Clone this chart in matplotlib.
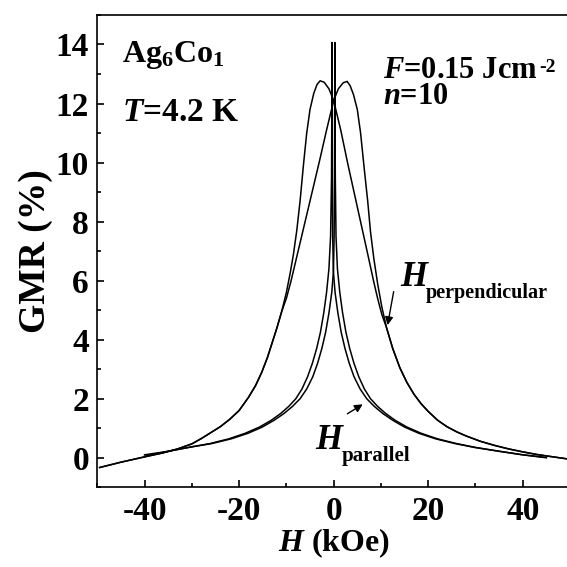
import matplotlib
matplotlib.use("Agg")
import matplotlib.pyplot as plt
from matplotlib.ticker import MultipleLocator

# perpendicular field, sweep + -> - (peak at negative H)
perp_down_h = [49.5, 46, 43, 40, 37, 34, 31, 28, 26, 24, 22, 20, 18.5, 17, 15.5, 14, 12.5, 11.2,
               10.2, 9.3, 8.5, 7, 5, 3, 1.5, 0, -1, -2, -2.85, -3.5, -4.2, -5.0, -5.7, -6.4,
               -7.1, -7.8, -8.5, -9.2, -10, -11, -12, -12.8, -14, -15.2, -16.5, -18, -20, -22,
               -24, -26, -28, -30, -33, -36, -40, -45, -49.5]
perp_down_gmr = [-0.04, 0.04, 0.11, 0.2, 0.3, 0.42, 0.56, 0.74, 0.88, 1.05, 1.27, 1.57, 1.83, 2.15, 2.55, 3.05, 3.7, 4.4,
                 4.85, 5.4, 5.95, 7.05, 8.5, 9.95, 11.1, 12.1, 12.5, 12.72, 12.77, 12.65, 12.35, 11.8, 11.0, 9.9,
                 8.7, 7.7, 6.9, 6.25, 5.6, 4.95, 4.4, 4.0, 3.4, 2.9, 2.45, 2.05, 1.6, 1.3,
                 1.05, 0.85, 0.65, 0.47, 0.3, 0.17, 0.03, -0.15, -0.33]

# perpendicular field, sweep - -> + (peak at positive H)
perp_up_h = [-49.5, -45, -40, -36, -33, -30, -28, -26, -24, -22, -20, -18, -16.5, -15.2, -14,
             -12.8, -12, -11, -10, -9, -7, -5, -3, -1.5, 0, 1, 2, 2.85, 3.5, 4.2, 5.0, 5.7,
             6.4, 7.2, 7.8, 8.5, 9.3, 10.2, 11.2, 12.5, 14, 15.5, 17, 18.5, 20, 22, 24, 26,
             28, 31, 34, 37, 40, 43, 46, 49.5]
perp_up_gmr = [-0.33, -0.15, 0.03, 0.17, 0.3, 0.47, 0.65, 0.85, 1.05, 1.3, 1.6, 2.05, 2.45, 2.9, 3.4,
               4.0, 4.4, 4.95, 5.4, 6.0, 7.35, 8.7, 10.05, 11.1, 12.1, 12.5, 12.7, 12.75, 12.6, 12.3, 11.8, 11.0,
               9.9, 8.7, 7.65, 6.75, 5.9, 5.1, 4.4, 3.7, 3.05, 2.55, 2.15, 1.83, 1.57, 1.27, 1.05, 0.88,
               0.74, 0.56, 0.42, 0.3, 0.2, 0.11, 0.04, -0.04]

# parallel field, sweep + -> - (sharp peak just below zero)
par_down_h = [45, 40, 35, 29.8, 25.7, 21.6, 18, 15, 12.5, 10.4, 8.6, 7.0, 5.6, 4.3, 3.3, 2.4,
              1.6, 0.9, 0.3, -0.05, -0.2, -0.28, -0.32, -0.35, -0.38, -0.45, -0.65, -1.0,
              -1.5, -2.1, -2.8, -3.6, -4.5, -5.5, -6.7, -8.0, -9.5, -11.2, -13.2, -15.7,
              -18.7, -22.2, -26.2, -30, -35, -40]
par_down_gmr = [0.0, 0.1, 0.22, 0.35, 0.48, 0.64, 0.83, 1.04, 1.27, 1.5, 1.74, 2.0, 2.33, 2.75, 3.2, 3.7,
                4.25, 4.9, 5.6, 6.3, 7.5, 9.5, 12.0, 14.07, 12.0, 9.5, 7.5, 6.4,
                5.6, 4.9, 4.25, 3.7, 3.2, 2.75, 2.33, 2.0, 1.74, 1.5, 1.27, 1.04,
                0.83, 0.64, 0.48, 0.37, 0.22, 0.05]

# parallel field, sweep - -> + (sharp peak just above zero)
par_up_h = [-40, -35, -30, -25.8, -21.7, -18.1, -15.1, -12.6, -10.5, -8.7, -7.1, -5.7, -4.4,
            -3.4, -2.5, -1.7, -1.0, -0.4, -0.05, 0.1, 0.18, 0.22, 0.25, 0.28, 0.35, 0.5, 0.8,
            1.3, 1.9, 2.6, 3.4, 4.3, 5.3, 6.5, 7.8, 9.3, 11, 13, 15.5, 18.5, 22, 26, 30,
            35, 40, 45]
par_up_gmr = [0.1, 0.22, 0.37, 0.48, 0.64, 0.83, 1.04, 1.27, 1.5, 1.74, 2.0, 2.33, 2.75,
              3.2, 3.7, 4.25, 4.9, 5.6, 6.3, 7.5, 9.5, 12.0, 14.07, 12.0, 9.5, 7.5, 6.4,
              5.6, 4.9, 4.25, 3.7, 3.2, 2.75, 2.33, 2.0, 1.74, 1.5, 1.27, 1.04, 0.83, 0.64, 0.48, 0.35,
              0.22, 0.1, 0.01]

plt.rcParams.update({
    "font.family": "Liberation Serif",
    "font.weight": "bold",
    "axes.labelweight": "bold",
    "axes.unicode_minus": False,
    "mathtext.fontset": "custom",
    "mathtext.rm": "Liberation Serif:bold",
    "mathtext.it": "Liberation Serif:italic:bold",
    "mathtext.bf": "Liberation Serif:bold",
    "axes.linewidth": 1.2,
})

fig = plt.figure(figsize=(5.67, 5.67), dpi=100)
ax = fig.add_axes([0.1716, 0.1406, 0.8337, 0.833])

for h, g in [(perp_down_h, perp_down_gmr), (perp_up_h, perp_up_gmr),
             (par_down_h, par_down_gmr), (par_up_h, par_up_gmr)]:
    ax.plot(h, g, color="black", lw=1.1)

ax.set_xlim(-50, 50)
ax.set_ylim(-1, 15)
ax.xaxis.set_major_locator(MultipleLocator(20))
ax.xaxis.set_minor_locator(MultipleLocator(10))
ax.yaxis.set_major_locator(MultipleLocator(2))
ax.yaxis.set_minor_locator(MultipleLocator(1))
ax.tick_params(which="both", direction="in", top=False, right=False, labelsize=24, pad=6)
ax.tick_params(which="major", length=5, width=1.2)
ax.tick_params(which="minor", length=3, width=1.2)

ax.set_xlabel(r"$H$ (kOe)", fontsize=23, labelpad=0)
ax.set_ylabel("GMR (%)", fontsize=27, labelpad=2)

ax.text(-44.7, 13.4, r"Ag$_6$Co$_1$", fontsize=23, ha="left", va="baseline")
ax.text(-44.7, 11.4, r"$T$=4.2 K", fontsize=24, ha="left", va="baseline")
ftxt = ax.text(10.5, 12.85, r"$F$=0.15 Jcm", fontsize=22, ha="left", va="baseline")
ax.annotate("-2", xy=(1.0, 1.0), xycoords=ftxt, xytext=(1, -2), textcoords="offset points",
            fontsize=14, ha="left", va="top")
ax.text(10.5, 12.0, r"$n$=10", fontsize=22, ha="left", va="baseline")

# H_perpendicular / H_parallel labels: big italic H with a smaller subscript word
ax.text(14.1, 5.82, r"$H$", fontsize=25, ha="left", va="baseline")
ax.text(19.4, 5.42, "perpendicular", fontsize=14.5, ha="left", va="baseline")
ax.text(-3.9, 0.3, r"$H$", fontsize=25, ha="left", va="baseline")
ax.text(1.6, -0.1, "parallel", fontsize=15, ha="left", va="baseline")

ax.annotate("", xy=(11.3, 4.4), xytext=(12.8, 5.72),
            arrowprops=dict(arrowstyle="-|>", color="black", lw=1, mutation_scale=12))
ax.annotate("", xy=(6.66, 1.86), xytext=(2.4, 1.44),
            arrowprops=dict(arrowstyle="-|>", color="black", lw=1, mutation_scale=12))

fig.savefig("out.png", dpi=100)
